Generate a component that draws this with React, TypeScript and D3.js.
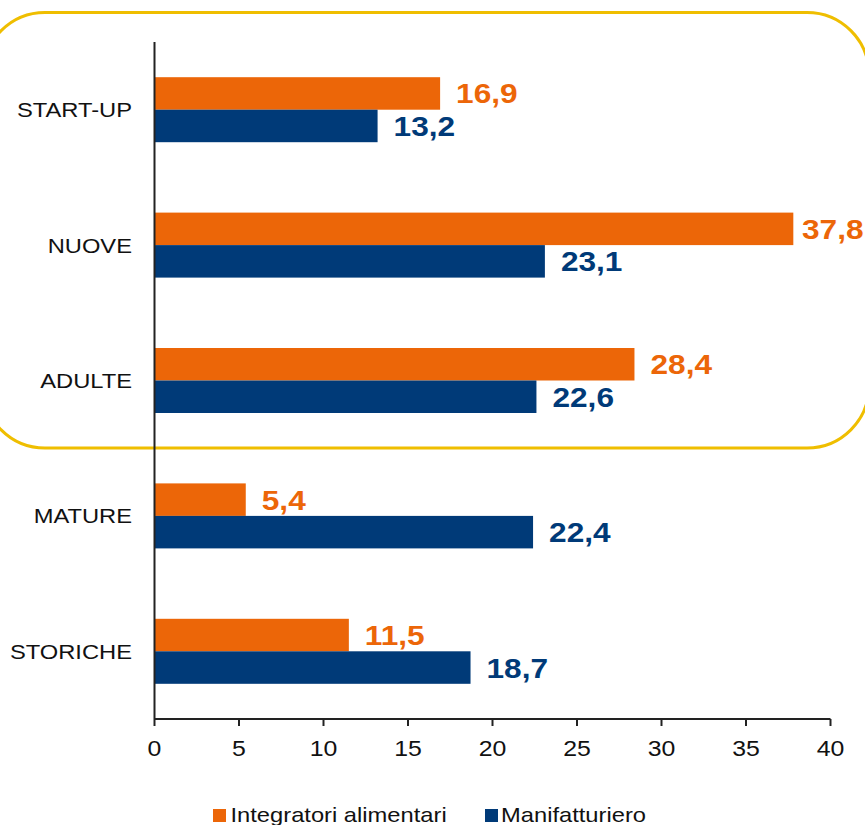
import React from "react";
import * as d3 from "d3";

const categories = ["START-UP", "NUOVE", "ADULTE", "MATURE", "STORICHE"];
const integratori = [16.9, 37.8, 28.4, 5.4, 11.5];
const manifatturiero = [13.2, 23.1, 22.6, 22.4, 18.7];
const xTicks = [0, 5, 10, 15, 20, 25, 30, 35, 40];
const seriesNames = ["Integratori alimentari", "Manifatturiero"];

const ORANGE = "#EC6608";
const BLUE = "#003A78";
const GOLD = "#EFBE00";
const FONT = "'Liberation Sans', Arial, Helvetica, sans-serif";
const SX = 1.13;

function T(props: any) {
  const { x, y, children, anchor = "start", ...rest } = props;
  return (
    <g transform={`translate(${x},${y}) scale(${SX},1)`}>
      <text x={0} y={0} textAnchor={anchor} fontFamily={FONT} {...rest}>
        {children}
      </text>
    </g>
  );
}

export default function App() {
  const W = 865, H = 825;
  const x = d3.scaleLinear().domain([0, 40]).range([154.5, 830.5]);
  const y = d3.scaleBand<string>().domain(categories).range([42, 719]).paddingInner(0).paddingOuter(0);
  const barH = 32.5;
  const fmt = (v: number) => v.toFixed(1).replace(".", ",");
  const labelX = (v: number) => Math.min(x(v) + 16, 802);

  return (
    <svg width={W} height={H} style={{ position: "absolute", left: 0, top: 0, background: "#fff" }}>
      <rect x={-17} y={12.5} width={886} height={435.5} rx={62} ry={62} fill="none" stroke={GOLD} strokeWidth={3} />
      {categories.map((c, i) => {
        const cy = (y(c) as number) + y.bandwidth() / 2;
        return (
          <g key={c}>
            <rect x={x(0)} y={cy - barH} width={x(integratori[i]) - x(0)} height={barH} fill={ORANGE} />
            <rect x={x(0)} y={cy} width={x(manifatturiero[i]) - x(0)} height={barH} fill={BLUE} />
            <T x={labelX(integratori[i])} y={cy - barH / 2 + 10} fill={ORANGE} fontWeight="bold" fontSize={28}>
              {fmt(integratori[i])}
            </T>
            <T x={labelX(manifatturiero[i])} y={cy + barH / 2 + 10} fill={BLUE} fontWeight="bold" fontSize={28}>
              {fmt(manifatturiero[i])}
            </T>
            <T x={132} y={cy + 7.5} anchor="end" fontSize={21} fill="#111">
              {c}
            </T>
          </g>
        );
      })}
      <line x1={x(0)} x2={x(0)} y1={42} y2={719} stroke="#222" strokeWidth={2} />
      <line x1={x(0)} x2={x(40)} y1={719} y2={719} stroke="#222" strokeWidth={2} />
      {xTicks.map((t) => (
        <g key={t}>
          <line x1={x(t)} x2={x(t)} y1={719} y2={726} stroke="#222" strokeWidth={2} />
          <T x={x(t)} y={756} anchor="middle" fontSize={22} fill="#111">
            {t}
          </T>
        </g>
      ))}
      <rect x={213} y={809} width={13} height={13} fill={ORANGE} />
      <T x={230.5} y={822} fontSize={21} fill="#111">{seriesNames[0]}</T>
      <rect x={485} y={809} width={13} height={13} fill={BLUE} />
      <T x={501} y={822} fontSize={21} fill="#111">{seriesNames[1]}</T>
    </svg>
  );
}
